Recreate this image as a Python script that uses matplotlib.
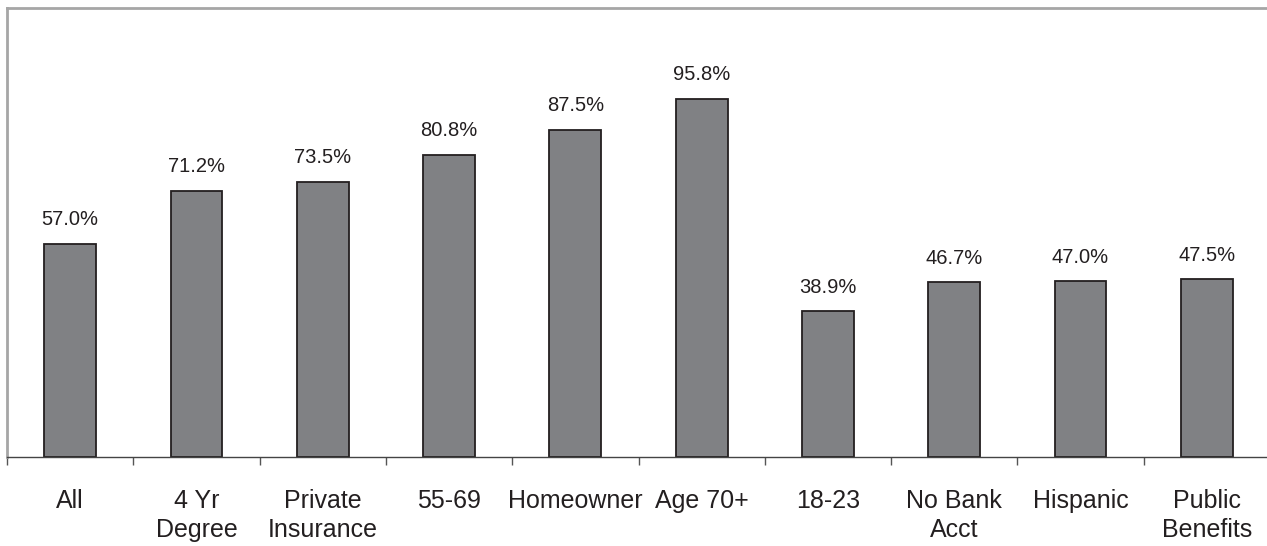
import numpy as np
import matplotlib.pyplot as plt
from matplotlib.ticker import FixedLocator

plt.rcParams['font.family'] = ['Liberation Sans', 'DejaVu Sans']

categories = ['All', '4 Yr\nDegree', 'Private\nInsurance', '55-69', 'Homeowner',
              'Age 70+', '18-23', 'No Bank\nAcct', 'Hispanic', 'Public\nBenefits']
values = [57.0, 71.2, 73.5, 80.8, 87.5, 95.8, 38.9, 46.7, 47.0, 47.5]

W, H = 1267, 546
fig = plt.figure(figsize=(W / 100, H / 100), dpi=100)
ax = fig.add_axes([7 / W, (H - 457) / H, 1263 / W, 449 / H])

x = np.arange(len(values))
bars = ax.bar(x, values, width=0.41, color='#808184', edgecolor='#231f20', linewidth=1.3)

for xi, v in zip(x, values):
    ax.annotate(f'{v:.1f}%', (xi, v), xytext=(0, 10.5), textcoords='offset points',
                ha='center', va='bottom', fontsize=14.5, color='#231f20')

ax.set_xlim(-0.5, len(values) - 0.5)
ax.set_ylim(0, 120)
ax.set_yticks([])

ax.set_xticks(x)
ax.set_xticklabels(categories, fontsize=18, color='#231f20', va='top', linespacing=1.25)
ax.tick_params(axis='x', which='major', length=0, pad=23)
ax.xaxis.set_minor_locator(FixedLocator(np.arange(-0.5, len(values), 1)))
ax.tick_params(axis='x', which='minor', length=6, width=1, color='#555555', direction='out')

for s in ['left', 'top']:
    ax.spines[s].set_color('#a6a6a6')
    ax.spines[s].set_linewidth(2)
ax.spines['right'].set_visible(False)
ax.spines['bottom'].set_color('#444444')
ax.spines['bottom'].set_linewidth(1)

fig.savefig('out.png', dpi=100)
